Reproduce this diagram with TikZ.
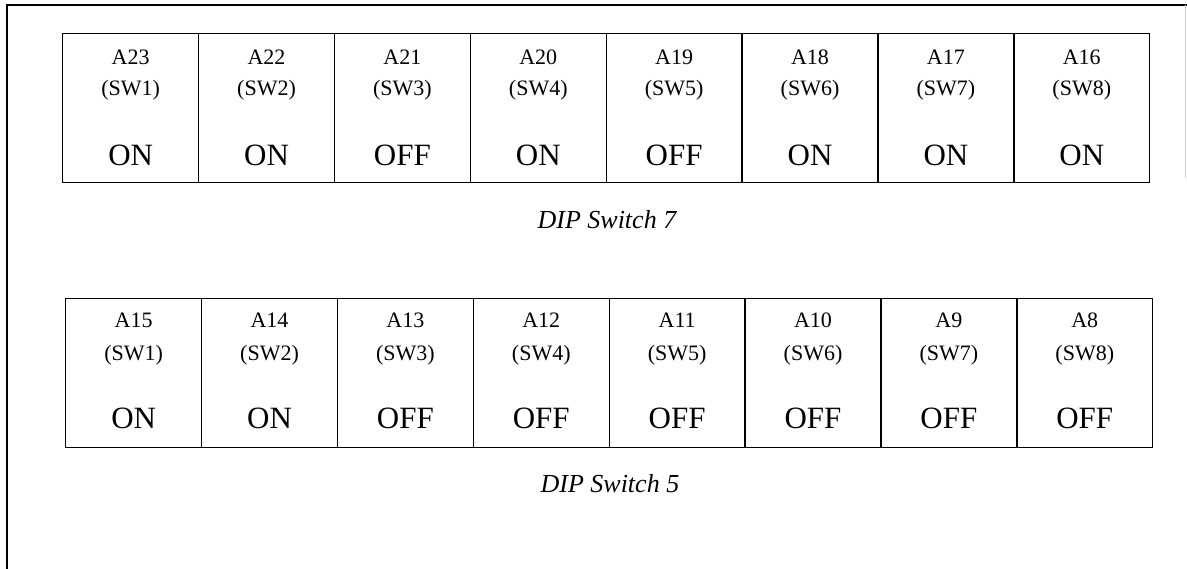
\documentclass[tikz,border=0pt]{standalone}
\usepackage{fontspec}
\setmainfont{Liberation Serif}
\usetikzlibrary{positioning}

\tikzset{
  cell/.style={draw, line width=1.4pt, minimum width=135.9pt, minimum height=149pt, inner sep=0pt, anchor=north west},
  addr/.style={font=\fontsize{22}{22}\selectfont, inner sep=0pt},
  state/.style={font=\fontsize{31}{31}\selectfont, inner sep=0pt},
  caption/.style={font=\itshape\fontsize{26}{26}\selectfont, inner sep=0pt}
}

\begin{document}
\begin{tikzpicture}[x=1pt,y=-1pt]
\useasboundingbox (0,0) rectangle (1187,569);

% outer frame
\draw[line width=1.3pt] (7,569) -- (7,5) -- (1187,5);
\draw[line width=1pt, gray!40] (1185,5) -- (1185,178);

% DIP switch 7
\foreach \a/\s [count=\i] in {A23/ON, A22/ON, A21/OFF, A20/ON, A19/OFF, A18/ON, A17/ON, A16/ON} {
	\node[cell] (u\i) at ({62+(\i-1)*135.875},33) {};
	\node[addr] (ua\i) at ([yshift=-24pt]u\i.north) {\a};
	\node[addr] (us\i) at ([yshift=-57pt]u\i.north) {(SW\i)};
	\node[state] (uo\i) at ([yshift=-122pt]u\i.north) {\s};
}
\node[caption] (cap7) at ([yshift=-36pt]u4.south east) {DIP Switch 7};

% DIP switch 5
\foreach \a/\s [count=\i] in {A15/ON, A14/ON, A13/OFF, A12/OFF, A11/OFF, A10/OFF, A9/OFF, A8/OFF} {
	\node[cell] (l\i) at ({65+(\i-1)*135.875},298) {};
	\node[addr] (la\i) at ([yshift=-22pt]l\i.north) {\a};
	\node[addr] (ls\i) at ([yshift=-57pt]l\i.north) {(SW\i)};
	\node[state] (lo\i) at ([yshift=-120pt]l\i.north) {\s};
}
\node[caption] (cap5) at ([yshift=-35pt]l4.south east) {DIP Switch 5};

\end{tikzpicture}
\end{document}
